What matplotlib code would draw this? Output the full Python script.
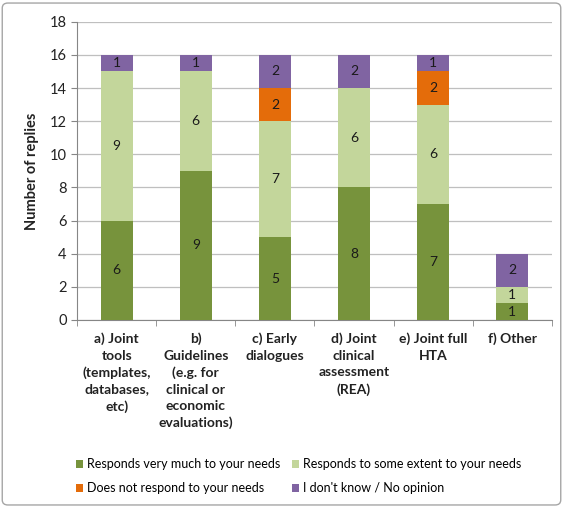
import matplotlib.pyplot as plt
from matplotlib.patches import FancyBboxPatch
import numpy as np

categories = ["a) Joint\ntools\n(templates,\ndatabases,\netc)",
              "b)\nGuidelines\n(e.g. for\nclinical or\neconomic\nevaluations)",
              "c) Early\ndialogues",
              "d) Joint\nclinical\nassessment\n(REA)",
              "e) Joint full\nHTA",
              "f) Other"]
very_much = [6, 9, 5, 8, 7, 1]
some_extent = [9, 6, 7, 6, 6, 1]
not_respond = [0, 0, 2, 0, 2, 0]
dont_know = [1, 1, 2, 2, 1, 2]

series = [
    ("Responds very much to your needs", very_much, "#77933C"),
    ("Responds to some extent to your needs", some_extent, "#C3D69B"),
    ("Does not respond to your needs", not_respond, "#E46C0A"),
    ("I don't know / No opinion", dont_know, "#8064A2"),
]

plt.rcParams['font.family'] = ['Lato', 'DejaVu Sans']

fig = plt.figure(figsize=(5.63, 5.07), dpi=100)
ax = fig.add_axes([0.137, 0.369, 0.843, 0.588])

x = np.arange(len(categories))
bottom = np.zeros(len(categories))
handles = []
for name, vals, col in series:
    vals = np.array(vals, dtype=float)
    b = ax.bar(x, vals, 0.4, bottom=bottom, color=col, label=name, zorder=3)
    handles.append(b)
    for xi, v, bt in zip(x, vals, bottom):
        if v > 0:
            ax.text(xi, bt + v / 2, str(int(v)), ha='center', va='center',
                    fontsize=10, color='#1a1a1a', zorder=4)
    bottom += vals

ax.set_xlim(-0.5, len(categories) - 0.5)
ax.set_ylim(0, 18)
ax.set_yticks(range(0, 19, 2))
ax.yaxis.grid(True, color='#BFBFBF', linewidth=0.9, zorder=0)
for s in ['top', 'right']:
    ax.spines[s].set_visible(False)
ax.spines['left'].set_color('#868686')
ax.spines['bottom'].set_color('#868686')
ax.tick_params(axis='y', colors='#868686', labelcolor='#222222', labelsize=10.5, length=4)
ax.set_xticks(x)
ax.set_xticklabels(categories, fontsize=10, fontweight='bold', color='#222222',
                   va='top', linespacing=1.45)
ax.tick_params(axis='x', length=0, pad=9)
ax.set_xticks(np.arange(-0.5, len(categories)), minor=True)
ax.tick_params(axis='x', which='minor', length=4, color='#868686')
ax.set_ylabel("Number of replies", fontsize=10.5, fontweight='bold', color='#222222', labelpad=8)

# row-major order like the original legend
order = [0, 2, 1, 3]
fig.legend(handles=[handles[i] for i in order], loc='lower left', bbox_to_anchor=(0.115, 0.003),
           ncol=2, frameon=False, fontsize=9, handlelength=0.6, handleheight=0.6,
           handletextpad=0.3, columnspacing=0.9, labelspacing=0.95)

border = FancyBboxPatch((0.004, 0.004), 0.992, 0.99, boxstyle="round,pad=0,rounding_size=0.01",
                        transform=fig.transFigure, fill=False, edgecolor='#A6A6A6', linewidth=1)
fig.patches.append(border)

fig.savefig("out.png", dpi=100)
